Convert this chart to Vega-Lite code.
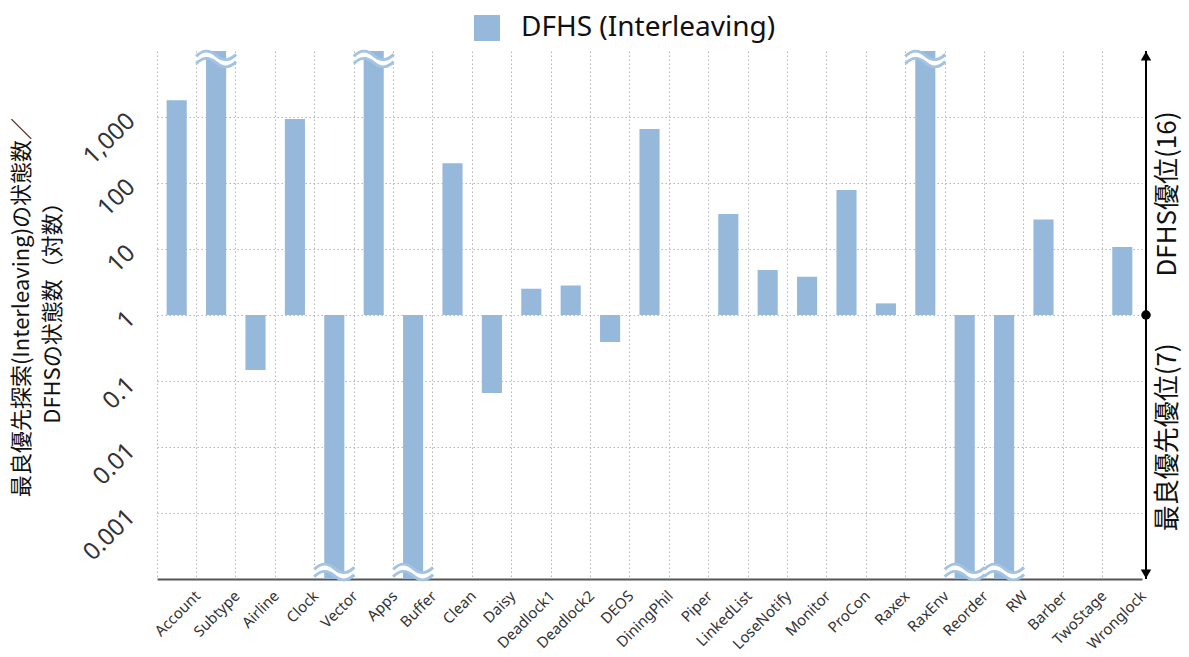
{
  "$schema": "https://vega.github.io/schema/vega-lite/v6.json",
  "width": 985,
  "height": 528,
  "autosize": {"type": "none"},
  "padding": {"left": 157, "top": 51, "right": 47, "bottom": 78},
  "background": "white",
  "config": {
    "view": {"stroke": null},
    "font": "Noto Sans, Noto Sans CJK JP",
    "axis": {"labelFont": "Noto Sans, Noto Sans CJK JP", "titleFont": "Noto Sans CJK JP, Noto Sans"}
  },
  "datasets": {
    "bars": [
      {"name": "Account", "value": 1800},
      {"name": "Subtype", "value": 10000},
      {"name": "Airline", "value": 0.147},
      {"name": "Clock", "value": 930},
      {"name": "Vector", "value": 0.0001},
      {"name": "Apps", "value": 10000},
      {"name": "Buffer", "value": 0.0001},
      {"name": "Clean", "value": 200},
      {"name": "Daisy", "value": 0.066},
      {"name": "Deadlock1", "value": 2.5},
      {"name": "Deadlock2", "value": 2.8},
      {"name": "DEOS", "value": 0.39},
      {"name": "DiningPhil", "value": 660},
      {"name": "Piper", "value": 1},
      {"name": "LinkedList", "value": 34},
      {"name": "LoseNotify", "value": 4.8},
      {"name": "Monitor", "value": 3.8},
      {"name": "ProCon", "value": 78},
      {"name": "Raxex", "value": 1.5},
      {"name": "RaxEnv", "value": 10000},
      {"name": "Reorder", "value": 0.0001},
      {"name": "RW", "value": 0.0001},
      {"name": "Barber", "value": 28},
      {"name": "TwoStage", "value": 1},
      {"name": "Wronglock", "value": 10.7}
    ],
    "arrow": [{"top": 10000, "bottom": 0.0001, "middle": 1}],
    "notes": [
      {"label": "DFHS優位(16)", "pos": 68},
      {"label": "最良優先優位(7)", "pos": 0.014}
    ]
  },
  "data": {"name": "bars"},
  "layer": [
    {
      "mark": {"type": "bar", "width": {"band": 0.51}},
      "encoding": {
        "x": {
          "field": "name", "type": "nominal", "sort": null,
          "scale": {"paddingInner": 0, "paddingOuter": 0},
          "axis": {
            "title": null, "labelAngle": -45, "labelAlign": "right", "labelBaseline": "middle",
            "labelFontSize": 15, "labelColor": "#333", "labelOffset": 21, "labelPadding": 14,
            "ticks": false, "tickSize": 0, "domainColor": "#555", "domainWidth": 2,
            "grid": true, "bandPosition": 0, "gridDash": [1.5, 2.5], "gridColor": "#b5b5b5",
            "labelOverlap": false
          }
        },
        "y": {
          "field": "value", "type": "quantitative",
          "scale": {"type": "log", "domain": [0.0001, 10000]},
          "axis": {
            "title": ["最良優先探索(Interleaving)の状態数／", "DFHSの状態数（対数）"],
            "titleFontSize": 22, "titleFontWeight": "normal", "titleLineHeight": 31,
            "titleAngle": 270, "titleAlign": "center", "titleBaseline": "top",
            "titleX": -146, "titleY": 256, "titleColor": "#111",
            "values": [0.001, 0.01, 0.1, 1, 10, 100, 1000],
            "format": ",~f",
            "labelAngle": -45, "labelAlign": "right", "labelBaseline": "middle",
            "labelFontSize": 24, "labelColor": "#333", "labelPadding": 26,
            "ticks": false, "domain": false,
            "grid": true, "gridDash": [1.5, 2.5], "gridColor": "#b5b5b5"
          }
        },
        "y2": {"datum": 1},
        "color": {
          "datum": "DFHS (Interleaving)", "type": "nominal",
          "scale": {"range": ["#95b8db"]},
          "legend": {
            "orient": "none", "legendX": 316, "legendY": -37, "title": null,
            "symbolType": "square", "symbolSize": 676, "symbolStrokeWidth": 0,
            "labelFontSize": 28, "labelOffset": 20, "labelColor": "#111", "padding": 0,
            "labelLimit": 500
          }
        }
      }
    },
    {
      "transform": [{"filter": "datum.value >= 10000"}],
      "mark": {"type": "point", "shape": "M-1,0.05 C-0.65,-0.3 -0.35,-0.3 0,0 C0.35,0.3 0.65,0.3 1,-0.05", "size": 1600, "filled": false, "stroke": "white", "strokeWidth": 6, "opacity": 1, "yOffset": 8},
      "encoding": {"x": {"field": "name", "type": "nominal", "sort": null}, "y": {"field": "value", "type": "quantitative"}}
    },
    {
      "transform": [{"filter": "datum.value >= 10000"}],
      "mark": {"type": "point", "shape": "M-1,-0.13 C-0.65,-0.48 -0.35,-0.48 0,-0.18 C0.35,0.12 0.65,0.12 1,-0.23 M-1,0.23 C-0.65,-0.12 -0.35,-0.12 0,0.18 C0.35,0.48 0.65,0.48 1,0.13", "size": 1600, "filled": false, "stroke": "#a3c3e3", "strokeWidth": 3, "opacity": 1, "yOffset": 8},
      "encoding": {"x": {"field": "name", "type": "nominal", "sort": null}, "y": {"field": "value", "type": "quantitative"}}
    },
    {
      "transform": [{"filter": "datum.value <= 0.0001"}],
      "mark": {"type": "point", "shape": "M-1,0.05 C-0.65,-0.3 -0.35,-0.3 0,0 C0.35,0.3 0.65,0.3 1,-0.05", "size": 1600, "filled": false, "stroke": "white", "strokeWidth": 6, "opacity": 1, "yOffset": -7},
      "encoding": {"x": {"field": "name", "type": "nominal", "sort": null}, "y": {"field": "value", "type": "quantitative"}}
    },
    {
      "transform": [{"filter": "datum.value <= 0.0001"}],
      "mark": {"type": "point", "shape": "M-1,-0.13 C-0.65,-0.48 -0.35,-0.48 0,-0.18 C0.35,0.12 0.65,0.12 1,-0.23 M-1,0.23 C-0.65,-0.12 -0.35,-0.12 0,0.18 C0.35,0.48 0.65,0.48 1,0.13", "size": 1600, "filled": false, "stroke": "#a3c3e3", "strokeWidth": 3, "opacity": 1, "yOffset": -7},
      "encoding": {"x": {"field": "name", "type": "nominal", "sort": null}, "y": {"field": "value", "type": "quantitative"}}
    },
    {
      "data": {"name": "arrow"},
      "mark": {"type": "rule", "color": "black", "strokeWidth": 2, "xOffset": 4},
      "encoding": {"x": {"value": "width"}, "y": {"field": "top", "type": "quantitative"}, "y2": {"field": "bottom"}}
    },
    {
      "data": {"name": "arrow"},
      "mark": {"type": "point", "shape": "triangle-up", "filled": true, "color": "black", "opacity": 1, "size": 110, "xOffset": 4, "yOffset": 5},
      "encoding": {"x": {"value": "width"}, "y": {"field": "top", "type": "quantitative"}}
    },
    {
      "data": {"name": "arrow"},
      "mark": {"type": "point", "shape": "triangle-down", "filled": true, "color": "black", "opacity": 1, "size": 110, "xOffset": 4, "yOffset": -5},
      "encoding": {"x": {"value": "width"}, "y": {"field": "bottom", "type": "quantitative"}}
    },
    {
      "data": {"name": "arrow"},
      "mark": {"type": "point", "shape": "circle", "filled": true, "color": "black", "opacity": 1, "size": 90, "xOffset": 4},
      "encoding": {"x": {"value": "width"}, "y": {"field": "middle", "type": "quantitative"}}
    },
    {
      "data": {"name": "notes"},
      "mark": {"type": "text", "angle": 270, "align": "center", "baseline": "middle", "fontSize": 26, "font": "Noto Sans CJK JP, Noto Sans", "color": "#111", "xOffset": 26},
      "encoding": {"x": {"value": "width"}, "y": {"field": "pos", "type": "quantitative"}, "text": {"field": "label"}}
    }
  ]
}
